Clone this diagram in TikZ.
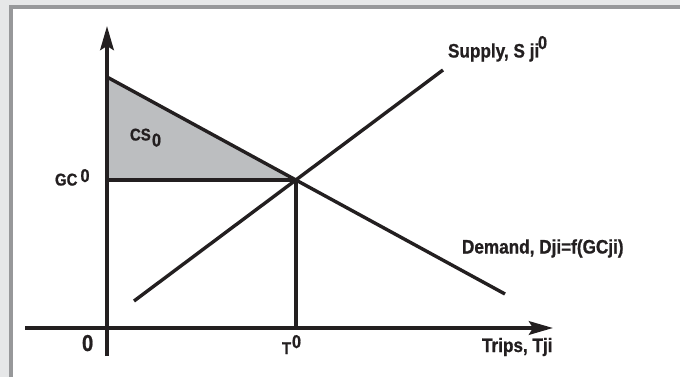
\documentclass[tikz,border=0pt]{standalone}
\usepackage{fontspec}
\setmainfont{Liberation Sans}[FakeStretch=0.88,BoldFeatures={FakeBold=0.9}]
\usetikzlibrary{arrows.meta}
\definecolor{ink}{HTML}{231F20}
\definecolor{csgray}{HTML}{BCBEC0}
\definecolor{bgray}{HTML}{E6E7E8}
\definecolor{fgray}{HTML}{97989A}
\tikzset{
  curve/.style={draw=ink, line width=3.4pt},
  axis/.style={draw=ink, line width=3.8pt, -{Stealth[length=24pt,width=13.5pt,inset=4pt]}},
  lab/.style={inner sep=0pt, outer sep=0pt, anchor=base west, text=ink, font=\bfseries\fontsize{19.5}{22}\selectfont},
  small/.style={lab, font=\bfseries\fontsize{17}{20}\selectfont},
  zero/.style={lab, font=\bfseries\fontsize{18.5}{21}\selectfont},
  bigzero/.style={lab, font=\bfseries\fontsize{23}{26}\selectfont}
}
\begin{document}
\begin{tikzpicture}[x=1pt,y=-1pt]
\useasboundingbox (0,0) rectangle (680,377);
% frame
\fill[bgray] (0,0) rectangle (680,377);
\fill[fgray] (9,5) rectangle (680,377);
\fill[white] (13,9) rectangle (680,377);
% points
\coordinate (O) at (107,328);
\coordinate (ytop) at (107,26);
\coordinate (ybot) at (107,356);
\coordinate (xl) at (25,328);
\coordinate (xr) at (553,328);
\coordinate (eq) at (296,180);
\coordinate (gc) at (107,180);
\coordinate (t0) at (296,328);
\coordinate (dtop) at (107,77);
\coordinate (dend) at (505,294);
\coordinate (sstart) at (134,301);
\coordinate (send) at (443,70);
% consumer surplus
\fill[csgray] (dtop) -- (eq) -- (gc) -- cycle;
% lines
\draw[curve] (gc) -- (eq);
\draw[curve] (eq) -- (t0);
\draw[curve] (dtop) -- (dend);
\draw[curve] (sstart) -- (send);
\draw[axis] (ybot) -- (ytop);
\draw[axis] (xl) -- (xr);
% labels
\node[small] (gclab) at (55,185.5) {GC};
\node[zero] (gczero) at (80.5,182) {0};
\node[small] (cslab) at (130,140.5) {CS};
\node[zero] (cszero) at (152,146.5) {0};
\node[bigzero] (ozero) at (82,351) {0};
\node[small] (tlab) at (282,354) {T};
\node[zero] (tzero) at (292,348) {0};
\node[lab] (supply) at (448,57.5) {Supply, S ji};
\node[zero] (szero) at (538,49) {0};
\node[lab] (demand) at (462,253.5) {Demand, Dji=f(GCji)};
\node[lab] (trips) at (482,352) {Trips, Tji};
\end{tikzpicture}
\end{document}
